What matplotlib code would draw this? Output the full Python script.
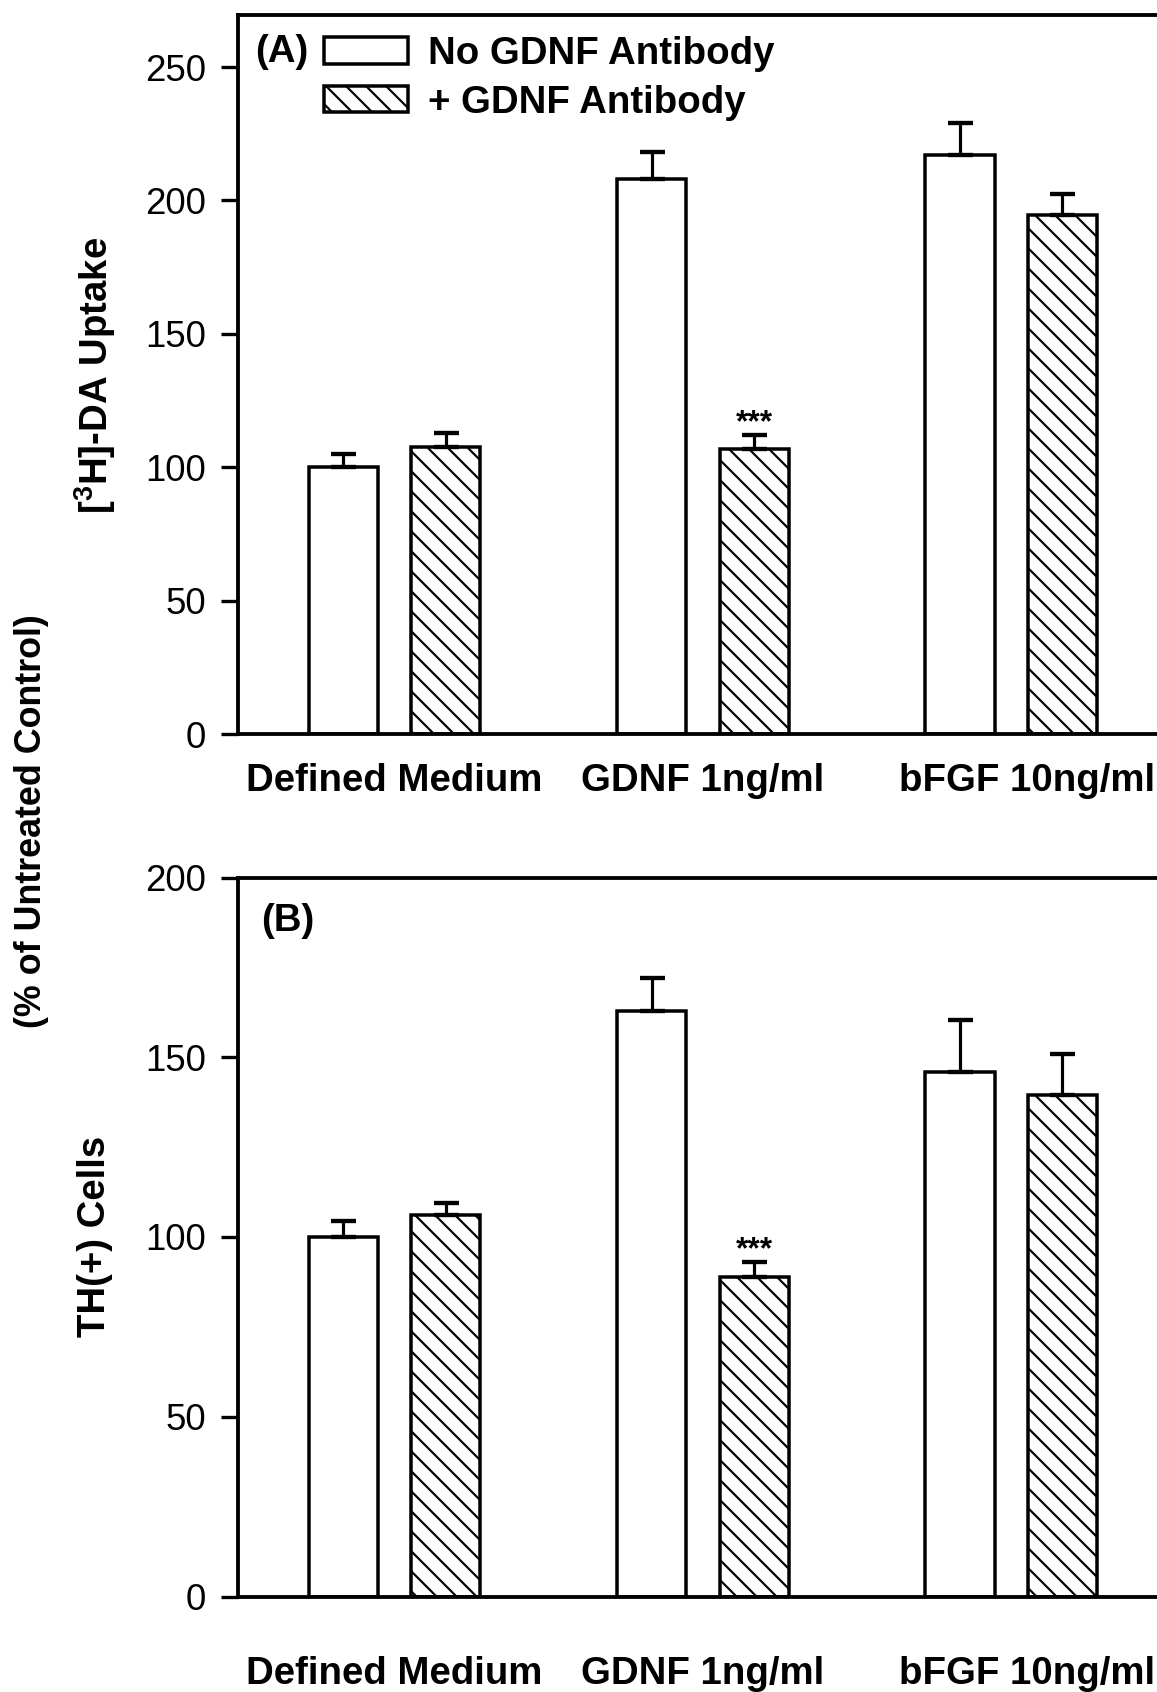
import matplotlib
matplotlib.use('Agg')
import matplotlib.pyplot as plt
from matplotlib.transforms import ScaledTranslation
import numpy as np

plt.rcParams['font.family'] = ['Liberation Sans', 'DejaVu Sans']
plt.rcParams['mathtext.fontset'] = 'custom'
plt.rcParams['mathtext.bf'] = 'Liberation Sans:bold'
plt.rcParams['mathtext.rm'] = 'Liberation Sans:bold'
plt.rcParams['hatch.linewidth'] = 1.3

groups = ['Defined Medium', 'GDNF 1ng/ml', 'bFGF 10ng/ml']
series = ['No GDNF Antibody', '+ GDNF Antibody']

# (A) [3H]-DA uptake, % of untreated control
uptake_no_ab = [100, 208, 217]
uptake_no_ab_err = [5, 10, 12]
uptake_ab = [107.5, 107, 194.5]
uptake_ab_err = [5.5, 5, 8]

# (B) TH(+) cells, % of untreated control
cells_no_ab = [100, 163, 146]
cells_no_ab_err = [4.5, 9, 14.5]
cells_ab = [106, 89, 139.5]
cells_ab_err = [3.5, 4, 11.5]

sig_group = 1          # GDNF + antibody differs from GDNF alone
sig_label = '***'

W, H, DPI = 1157, 1692, 120
FS = 23                # bold label size
width = 0.224          # bar width
off = 0.166            # bar offset from group centre
lw = 2.1


def draw_panel(ax, no_ab, no_ab_err, ab, ab_err, ymax, yticks, tag, tag_xy, xpad):
    x = np.arange(len(groups))
    b1 = ax.bar(x - off, no_ab, width, color='white', edgecolor='black',
                linewidth=lw, label=series[0], zorder=2)
    b2 = ax.bar(x + off, ab, width, color='white', edgecolor='black',
                linewidth=lw, hatch='\\\\', label=series[1], zorder=2)
    for xs, ys, es in [(x - off, no_ab, no_ab_err), (x + off, ab, ab_err)]:
        ax.errorbar(xs, ys, yerr=[np.zeros(len(es)), es], fmt='none',
                    ecolor='black', elinewidth=1.9, capsize=7.5,
                    capthick=2.6, zorder=3)
    # significance mark over the antibody-treated GDNF bar
    ax.annotate(sig_label, (sig_group + off, ab[sig_group] + ab_err[sig_group]),
                xytext=(0, -2), textcoords='offset points', ha='center',
                va='bottom', fontsize=19, fontweight='bold')

    ax.set_xlim(-0.508, 2.473)
    ax.set_ylim(0, ymax)
    ax.set_yticks(yticks)
    ax.set_xticks(x)
    ax.set_xticklabels(groups, fontsize=FS, fontweight='bold')
    ax.tick_params(axis='x', length=0, pad=xpad)
    ax.tick_params(axis='y', direction='out', length=10, width=2,
                   labelsize=22, pad=9)
    # last label runs off the right edge of the figure
    last = ax.get_xticklabels()[-1]
    last.set_transform(last.get_transform() +
                       ScaledTranslation(16 / DPI, 0, ax.figure.dpi_scale_trans))
    ax.spines['right'].set_visible(False)
    for s in ['top', 'left', 'bottom']:
        ax.spines[s].set_linewidth(2.3)
    ax.text(tag_xy[0], tag_xy[1], tag, transform=ax.transAxes, ha='center',
            va='center', fontsize=FS, fontweight='bold')
    return b1, b2


fig = plt.figure(figsize=(W / DPI, H / DPI), dpi=DPI)
left = 238 / W
axw = 1 - left
axh = 719 / H
ax_a = fig.add_axes([left, 1 - 734 / H, axw, axh])
ax_b = fig.add_axes([left, 1 - 1596.5 / H, axw, axh])

h1, h2 = draw_panel(ax_a, uptake_no_ab, uptake_no_ab_err, uptake_ab, uptake_ab_err,
                    269.5, [0, 50, 100, 150, 200, 250], '(A)', (0.048, 0.948), 17.5)
draw_panel(ax_b, cells_no_ab, cells_no_ab_err, cells_ab, cells_ab_err,
           200, [0, 50, 100, 150, 200], '(B)', (0.054, 0.9395), 36)

ax_a.legend(handles=[h1, h2], loc='upper left',
            bbox_to_anchor=(324 / W, 1 - 36 / H), bbox_transform=fig.transFigure,
            frameon=False, borderpad=0, borderaxespad=0, handlelength=2.2,
            handleheight=0.68, handletextpad=0.5, labelspacing=0.33,
            prop={'size': FS, 'weight': 'bold'})

fig.text(95 / W, 1 - 375 / H, r'[$^\mathbf{3}$H]-DA Uptake', rotation=90,
         ha='center', va='center', fontsize=FS, fontweight='bold')
fig.text(32 / W, 1 - 821 / H, '(% of Untreated Control)', rotation=90,
         ha='center', va='center', fontsize=21.5, fontweight='bold')
fig.text(95 / W, 1 - 1236 / H, 'TH(+) Cells', rotation=90,
         ha='center', va='center', fontsize=FS, fontweight='bold')

fig.savefig('out.png', dpi=DPI)
